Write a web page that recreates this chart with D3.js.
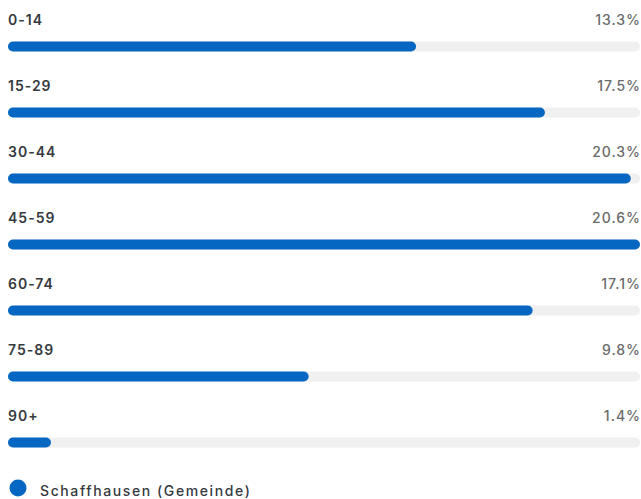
<!DOCTYPE html>
<html>
<head>
<meta charset="utf-8">
<script src="https://cdn.jsdelivr.net/npm/d3@7"></script>
<style>
  body { margin: 0; background: #fff; }
  svg { display: block; }
</style>
</head>
<body>
<script>
// age groups and their share (%)
var ageGroups = ['0-14', '15-29', '30-44', '45-59', '60-74', '75-89', '90+'];
var shares = [13.3, 17.5, 20.3, 20.6, 17.1, 9.8, 1.4];
var seriesName = 'Schaffhausen (Gemeinde)';

var WIDTH = 641, HEIGHT = 499;
var LEFT = 8, RIGHT = 640;
var ROWSTEP = 66, BARH = 10;
var BLUE = '#0667c3';

var data = ageGroups.map(function(g, i) { return { group: g, value: shares[i] }; });

var svg = d3.select('body').append('svg')
	.attr('width', WIDTH)
	.attr('height', HEIGHT);

var x = d3.scaleLinear()
	.domain([0, d3.max(shares)])
	.range([0, RIGHT - LEFT]);

var y = d3.scaleBand()
	.domain(ageGroups)
	.range([0, ROWSTEP * ageGroups.length]);

var rows = svg.selectAll('.row')
	.data(data)
	.enter()
	.append('g')
	.attr('class', 'row')
	.attr('transform', function(d) { return 'translate(0,' + y(d.group) + ')'; });

// label on the left
rows.append('text')
	.attr('x', LEFT)
	.attr('y', 25)
	.text(function(d) { return d.group; })
	.attr('font-family', 'Inter, sans-serif')
	.attr('font-size', '14px')
	.attr('font-weight', 600)
	.style('letter-spacing', '1px')
	.attr('fill', '#353a40');

// percentage on the right
rows.append('text')
	.attr('x', RIGHT + 1)
	.attr('y', 25)
	.attr('text-anchor', 'end')
	.text(function(d) { return d.value.toFixed(1) + '%'; })
	.attr('font-family', 'Inter, sans-serif')
	.attr('font-size', '14px')
	.attr('font-weight', 500)
	.style('letter-spacing', '1px')
	.attr('fill', '#6a6a6a');

// grey track
rows.append('rect')
	.attr('x', LEFT)
	.attr('y', 41.5)
	.attr('width', RIGHT - LEFT)
	.attr('height', BARH)
	.attr('rx', BARH / 2)
	.attr('fill', '#f0f0f0');

// value bar
rows.append('rect')
	.attr('x', LEFT)
	.attr('y', 41.5)
	.attr('width', function(d) { return x(d.value); })
	.attr('height', BARH)
	.attr('rx', BARH / 2)
	.attr('fill', BLUE);

// legend
var legend = svg.append('g').attr('transform', 'translate(0,488)');
legend.append('circle')
	.attr('cx', 18)
	.attr('cy', 0)
	.attr('r', 8.5)
	.attr('fill', BLUE);
legend.append('text')
	.attr('x', 40)
	.attr('y', 7.5)
	.text(seriesName)
	.attr('font-family', 'Inter, sans-serif')
	.attr('font-size', '14px')
	.attr('font-weight', 500)
	.style('letter-spacing', '1.6px')
	.attr('fill', '#353a40');
</script>
</body>
</html>
